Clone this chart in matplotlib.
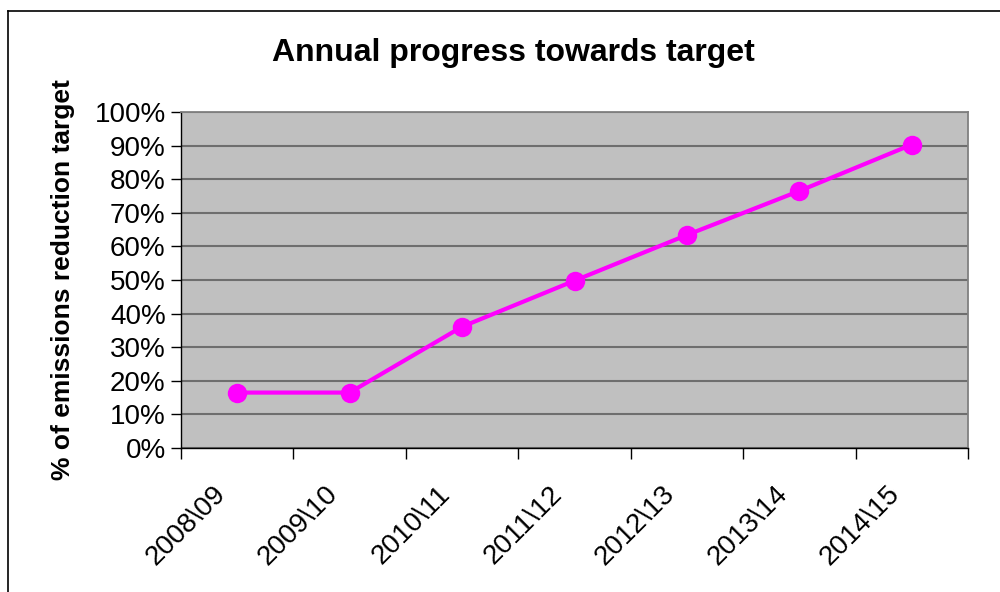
import matplotlib.pyplot as plt
from matplotlib.lines import Line2D
from matplotlib.ticker import FixedLocator, PercentFormatter
from matplotlib.transforms import ScaledTranslation

years = ["2008\\09", "2009\\10", "2010\\11", "2011\\12", "2012\\13", "2013\\14", "2014\\15"]
progress = [16.5, 16.5, 36.1, 49.8, 63.4, 76.5, 90.3]
y_ticks = list(range(0, 101, 10))

plt.rcParams["font.family"] = ["Liberation Sans", "DejaVu Sans"]

fig = plt.figure(figsize=(10, 5.92), dpi=100)
ax = fig.add_axes([0.181, 0.2432, 0.787, 0.5676])
ax.set_facecolor("#c0c0c0")

x = list(range(len(years)))
ax.plot(x, progress, color="#ff00ff", lw=3, marker="o", ms=14,
        markeredgewidth=0, zorder=3)

ax.set_xlim(-0.5, len(years) - 0.5)
ax.set_ylim(0, 100)
ax.set_yticks(y_ticks)
ax.yaxis.set_major_formatter(PercentFormatter(decimals=0))
ax.yaxis.grid(True, color="#6e6e6e", lw=1.5)
ax.set_axisbelow(True)

# ticks sit on the category boundaries, labels are drawn by hand below
ax.set_xticks([])
ax.xaxis.set_minor_locator(FixedLocator([i - 0.5 for i in range(len(years) + 1)]))
ax.tick_params(axis="x", which="minor", length=8, width=1, color="black")
ax.tick_params(axis="y", length=7, width=1, labelsize=20, pad=4)

lbl_trans = ax.get_xaxis_transform() + ScaledTranslation(-0.25, -0.33, fig.dpi_scale_trans)
for xi, name in zip(x, years):
    ax.text(xi, 0, name, transform=lbl_trans, rotation=45, rotation_mode="anchor",
            ha="right", va="top", fontsize=20)

for side in ("left", "bottom"):
    ax.spines[side].set_color("black")
    ax.spines[side].set_linewidth(1)
for side in ("top", "right"):
    ax.spines[side].set_color("#808080")
    ax.spines[side].set_linewidth(1.3)

ax.set_ylabel("% of emissions reduction target", fontsize=19, fontweight="bold", labelpad=14)
fig.text(0.513, 0.911, "Annual progress towards target", ha="center", va="center",
         fontsize=23, fontweight="bold")

# chart frame
fig.add_artist(Line2D([0.0075, 0.0075], [0, 0.9806], color="black", lw=1.2,
                      transform=fig.transFigure))
fig.add_artist(Line2D([0.0075, 1], [0.9806, 0.9806], color="black", lw=1.2,
                      transform=fig.transFigure))

fig.savefig("out.png", dpi=100)
